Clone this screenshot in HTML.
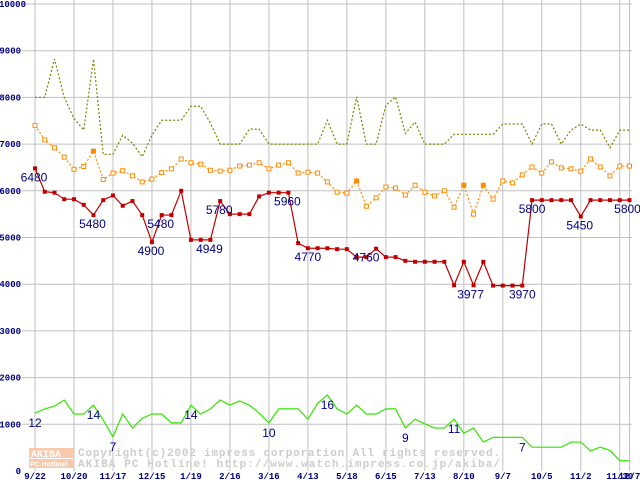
<!DOCTYPE html>
<html><head><meta charset="utf-8"><style>
html,body{margin:0;padding:0;background:#fff;}
svg{display:block;font-family:"Liberation Sans",sans-serif;}
</style></head><body>
<svg id="chart" width="640" height="480" viewBox="0 0 640 480" xmlns="http://www.w3.org/2000/svg">
<g id="grid"></g>
<g id="watermark">
  <rect x="29" y="448" width="45" height="10" fill="#f8c8a8"/>
  <rect x="29" y="459" width="45" height="9" fill="#f8c8a8"/>
  <text x="31" y="457" font-size="10" font-weight="bold" fill="#fff" font-family="Liberation Mono,monospace">AKIBA</text>
  <text x="30" y="466.5" font-size="7" font-weight="bold" fill="#fff">PC Hotline!</text>
  <text x="78" y="456" font-size="11" fill="#cccccc" font-weight="bold" font-family="Liberation Mono,monospace" textLength="422">Copyright(c)2002 impress corporation All rights reserved.</text>
  <text x="78" y="467" font-size="11" fill="#cccccc" font-weight="bold" font-family="Liberation Mono,monospace" textLength="422">AKIBA PC Hotline!  http://www.watch.impress.co.jp/akiba/</text>
</g>
<g id="series"></g>
<g id="labels"></g>
</svg>
<script>
const weeks = 62;
const xTickLabels = ["9/22","10/20","11/17","12/15","1/19","2/16","3/16","4/13","5/18","6/15","7/13","8/10","9/7","10/5","11/2","11/30","12/7"];
const xTickIndex = [0,4,8,12,16,20,24,28,32,36,40,44,48,52,56,60,61];
const yTicks = [0,1000,2000,3000,4000,5000,6000,7000,8000,9000,10000];
const redValues = [6480,5980,5960,5820,5820,5700,5480,5800,5900,5680,5780,5480,4900,5480,5480,6000,4949,4949,4949,5780,5500,5500,5500,5880,5960,5960,5960,4880,4770,4770,4770,4750,4750,4580,4580,4760,4580,4580,4500,4480,4480,4480,4480,3977,4480,3977,4480,3970,3970,3970,3970,5800,5800,5800,5800,5800,5450,5800,5800,5800,5800,5800];
const orangeValues = [7400,7090,6920,6720,6460,6520,6850,6240,6380,6430,6320,6190,6250,6390,6470,6680,6600,6570,6440,6420,6440,6530,6550,6600,6470,6550,6600,6380,6400,6380,6190,5970,5950,6210,5670,5850,6080,6060,5910,6120,5970,5890,6000,5650,6120,5500,6120,5820,6210,6170,6340,6510,6380,6620,6490,6470,6420,6680,6510,6320,6530,6530];
const orangeFilled = [6,33,44,46];
const oliveValues = [8000,8000,8820,8000,7550,7300,8820,6780,6780,7190,7020,6730,7190,7510,7510,7510,7810,7810,7450,7000,7000,7000,7320,7320,7000,7000,7000,7000,7000,7000,7510,7000,7000,8010,7000,7000,7830,8010,7230,7470,7000,7000,7000,7210,7210,7210,7210,7210,7430,7430,7430,7000,7430,7430,7000,7300,7430,7300,7300,6920,7300,7300];
const greenValues = [1240,1330,1390,1520,1220,1220,1410,1090,730,1220,920,1130,1220,1220,1030,1030,1410,1220,1330,1520,1410,1500,1410,1240,1030,1330,1330,1330,1110,1450,1630,1330,1220,1410,1220,1220,1330,1330,920,1110,1010,920,920,1110,810,920,620,720,720,720,720,510,510,510,510,620,620,430,510,440,220,220];
const redLabels = [[0,"6480"],[6,"5480"],[12,"4900"],[13,"5480"],[18,"4949"],[19,"5780"],[26,"5960"],[28,"4770"],[35,"4760"],[45,"3977"],[50,"3970"],[51,"5800"],[56,"5450"],[61,"5800"]];
const redLabelDx = [-1,-1,-1,-1,-1,-1,-1,0,-10,-3,0,0,-1,-2];
const greenLabels = [[0,"12"],[6,"14"],[8,"7"],[16,"14"],[24,"10"],[30,"16"],[38,"9"],[43,"11"],[50,"7"]];

const NS="http://www.w3.org/2000/svg";
const X = i => 35 + i*(629.5-35)/(weeks-1);
const Y = v => 471 - v*0.0467;
function mk(tag, attrs, parent){const e=document.createElementNS(NS,tag);for(const k in attrs)e.setAttribute(k,attrs[k]);parent.appendChild(e);return e;}
const grid=document.getElementById('grid'), ser=document.getElementById('series'), lab=document.getElementById('labels');

yTicks.forEach(v=>{
  if(v>0){const l=mk('line',{x1:22,x2:632,y1:Y(v),y2:Y(v),stroke:'#c0c0c0','stroke-width':1},grid);
  
  }
  const t=mk('text',{x:v===10000?26:21,y:Y(v)+3,'font-size':9,'font-weight':'bold',fill:'#000080','text-anchor':'end','font-family':'Liberation Mono,monospace'},grid);
  t.textContent=v;
  
  
});
xTickIndex.forEach((idx,k)=>{
  const l=mk('line',{x1:X(idx),x2:X(idx),y1:0,y2:471,stroke:'#c0c0c0','stroke-width':1},grid);
  
  
  const t=mk('text',{x:X(idx),y:479,'font-size':9,'font-weight':'bold',fill:'#000080','text-anchor':'middle','font-family':'Liberation Mono,monospace'},grid);
  t.textContent=xTickLabels[k];
  
  
});
function line(vals,color,dash,name){
  const p=mk('polyline',{points:vals.map((v,i)=>X(i)+','+Y(v)).join(' '),fill:'none',stroke:color,'stroke-width':1.2},ser);
  if(dash)p.setAttribute('stroke-dasharray',dash);
  
  
}
line(oliveValues,'#808000','2,2','olive-series-line');
line(orangeValues,'#ff8c00','2,2','orange-series-line');
orangeValues.forEach((v,i)=>{
  const f=orangeFilled.includes(i);
  const r=mk('rect',{x:X(i)-2,y:Y(v)-2,width:4,height:4,fill:f?'#ff8c00':'#fff',stroke:'#ff8c00','stroke-width':1},ser);
  
  
});
line(redValues,'#c00000',null,'red-series-line');
redValues.forEach((v,i)=>{
  const r=mk('rect',{x:X(i)-2,y:Y(v)-2,width:4,height:4,fill:'#c00000'},ser);
  
  
});
line(greenValues,'#33e600',null,'green-series-line');
redLabels.forEach(([i,s],k)=>{
  const t=mk('text',{x:X(i)+redLabelDx[k],y:Y(redValues[i])+13,'font-size':12,fill:'#000080','text-anchor':'middle'},lab);
  t.textContent=s;
  
  
});
greenLabels.forEach(([i,s])=>{
  const t=mk('text',{x:X(i),y:Y(greenValues[i])+14,'font-size':12,fill:'#000080','text-anchor':'middle'},lab);
  t.textContent=s;
  
  
});
</script>
</body></html>
